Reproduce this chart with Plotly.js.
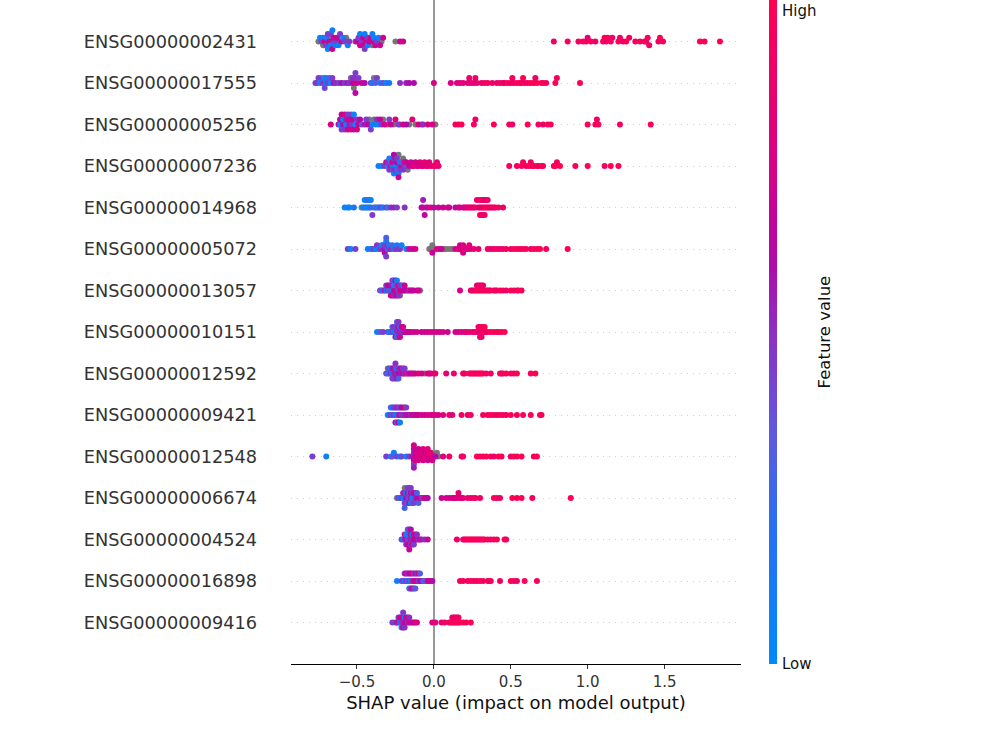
<!DOCTYPE html>
<html><head><meta charset="utf-8">
<script src="https://cdn.plot.ly/plotly-3.0.1.min.js"></script>
<style>html,body{margin:0;padding:0;background:#fff}#chart{width:1000px;height:750px}</style>
</head><body><div id="chart"></div>
<script>
// Feature names, top to bottom as displayed
const featureNames = ["ENSG00000002431","ENSG00000017555","ENSG00000005256","ENSG00000007236","ENSG00000014968","ENSG00000005072","ENSG00000013057","ENSG00000010151","ENSG00000012592","ENSG00000009421","ENSG00000012548","ENSG00000006674","ENSG00000004524","ENSG00000016898","ENSG00000009416"];
const xTickVals = [-0.5, 0, 0.5, 1, 1.5];
const xTickText = ["\u22120.5", "0.0", "0.5", "1.0", "1.5"];

// SHAP values and normalised feature values (0 = low, 1 = high); null = missing (grey)
const shap_002431 = [-0.75,-0.74,-0.73,-0.72,-0.72,-0.71,-0.70,-0.70,-0.69,-0.69,-0.68,-0.68,-0.67,-0.67,-0.66,-0.66,-0.65,-0.65,-0.64,-0.63,-0.63,-0.62,-0.61,-0.60,-0.59,-0.58,-0.57,-0.56,-0.55,-0.51,-0.50,-0.49,-0.48,-0.48,-0.47,-0.46,-0.46,-0.45,-0.45,-0.44,-0.43,-0.43,-0.42,-0.41,-0.40,-0.40,-0.39,-0.39,-0.38,-0.37,-0.36,-0.35,-0.34,-0.33,-0.25,-0.22,-0.20,
  0.78,0.87,0.94,0.97,0.99,1.00,1.02,1.05,1.10,1.11,1.12,1.13,1.15,1.16,1.20,1.21,1.23,1.25,1.27,1.31,1.34,1.37,1.38,1.39,1.40,1.46,1.47,1.49,1.73,1.76,1.86];
const feat_002431 = [null,0.08,0.45,0.08,null,0.7,0.08,0.45,0.45,0.08,0.7,null,0.08,0.45,0.7,0.08,0.45,0.7,0.08,0.45,0.7,0.08,0.45,0.7,0.08,0.45,null,0.08,0.45,0.45,0.7,0.45,0.7,0.08,0.45,0.7,0.7,0.08,0.45,0.7,0.45,0.08,0.7,0.7,null,0.08,0.7,0.08,0.7,0.45,0.08,0.7,null,0.7,null,0.7,0.7,
  0.9,0.95,0.9,1,0.95,0.85,0.95,0.9,1,0.95,0.9,1,0.95,0.9,1,0.95,0.9,1,0.95,0.9,1,0.95,0.9,1,0.95,0.9,1,0.95,1,0.95,1];

const shap_017555 = [-0.77,-0.76,-0.75,-0.74,-0.73,-0.72,-0.71,-0.71,-0.70,-0.70,-0.69,-0.68,-0.67,-0.66,-0.65,-0.64,-0.62,-0.60,-0.58,-0.56,-0.55,-0.54,-0.53,-0.53,-0.52,-0.52,-0.52,-0.51,-0.51,-0.50,-0.49,-0.47,-0.45,-0.41,-0.40,-0.39,-0.38,-0.37,-0.35,-0.33,-0.31,-0.29,-0.22,-0.18,-0.16,-0.13,0.00,
  0.11,0.15,0.17,0.19,0.22,0.23,0.24,0.26,0.27,0.28,0.31,0.33,0.35,0.38,0.41,0.43,0.45,0.46,0.48,0.50,0.51,0.52,0.54,0.56,0.57,0.58,0.59,0.61,0.63,0.65,0.66,0.67,0.70,0.71,0.73,0.79,0.80,0.95];
const feat_017555 = [0.45,null,0.45,0.08,null,0.5,0.08,0.4,0.08,null,0.45,0.3,0.08,0.45,0.6,0.5,0.45,0.6,0.45,0.7,0.45,null,0.6,0.45,0.7,0.5,null,0.45,0.65,0.7,0.45,0.7,0.6,0.45,0.08,null,0.35,0.45,0.08,0.4,0.08,0.15,0.5,0.55,0.6,0.6,0.75,
  0.75,0.8,0.75,0.85,0.8,0.9,0.8,0.85,0.9,0.85,0.9,0.85,0.95,0.9,0.85,0.95,0.9,0.85,1,0.9,0.95,0.9,1,0.95,0.9,1,0.95,0.9,1,0.95,0.9,1,0.95,1,0.95,1,0.95,1];

const shap_005256 = [-0.67,-0.62,-0.61,-0.61,-0.60,-0.60,-0.59,-0.59,-0.58,-0.58,-0.57,-0.57,-0.56,-0.56,-0.55,-0.55,-0.54,-0.54,-0.53,-0.53,-0.52,-0.52,-0.51,-0.50,-0.50,-0.49,-0.48,-0.47,-0.45,-0.44,-0.43,-0.42,-0.41,-0.40,-0.39,-0.38,-0.37,-0.36,-0.35,-0.34,-0.33,-0.32,-0.30,-0.29,-0.28,-0.26,-0.25,-0.23,-0.22,-0.20,-0.18,-0.16,-0.14,-0.12,-0.10,-0.08,-0.07,-0.04,-0.01,0.01,
  0.14,0.16,0.18,0.26,0.27,0.39,0.49,0.51,0.61,0.68,0.71,0.74,0.76,1.00,1.05,1.06,1.07,1.21,1.41];
const feat_005256 = [0.75,0.6,0.08,0.7,0.45,0.7,0.6,0.08,0.45,0.75,0.1,0.55,0.7,0.45,0.55,0.75,0.75,0.45,0.45,0.65,0.65,0.08,0.08,0.5,0.75,0.7,0.6,0.4,0.55,0.45,0.65,null,0.45,0.08,null,0.08,0.5,0.08,0.7,0.45,null,0.75,null,0.45,0.7,null,0.8,0.45,null,0.75,0.6,null,0.8,null,0.75,null,0.5,0.8,0.75,null,
  0.95,0.9,1,0.95,0.9,1,0.95,0.9,1,0.95,0.9,1,0.95,1,0.95,0.9,1,0.95,1];

const shap_007236 = [-0.36,-0.34,-0.32,-0.31,-0.30,-0.30,-0.29,-0.29,-0.28,-0.28,-0.27,-0.27,-0.27,-0.26,-0.26,-0.26,-0.25,-0.25,-0.25,-0.25,-0.24,-0.24,-0.24,-0.24,-0.23,-0.23,-0.23,-0.22,-0.22,-0.22,-0.21,-0.21,-0.20,-0.20,-0.19,-0.19,-0.18,-0.18,-0.17,-0.16,-0.15,-0.14,-0.13,-0.12,-0.11,-0.10,-0.09,-0.08,-0.07,-0.06,-0.05,-0.04,-0.03,-0.02,0.00,0.01,0.02,0.03,
  0.49,0.54,0.57,0.58,0.60,0.62,0.63,0.64,0.65,0.67,0.68,0.70,0.71,0.78,0.79,0.80,0.82,0.92,1.00,1.11,1.15,1.20];
const feat_007236 = [0.08,0.08,0.45,0.65,0.08,0.5,0.45,0.08,0.7,0.3,0.08,0.7,0.45,0.4,0.08,0.6,0.08,null,0.55,0.7,0.08,0.6,0.35,0.45,0.08,null,0.7,0.5,0.08,0.45,0.7,0.3,0.45,null,0.5,0.75,0.4,0.7,null,0.65,0.7,0.75,0.8,0.7,0.8,0.75,0.8,0.75,0.8,0.85,0.8,0.85,0.8,0.85,0.85,0.9,0.85,0.9,
  0.95,0.9,1,0.95,0.9,1,0.95,0.9,1,0.95,0.9,1,0.95,0.9,1,0.95,1,0.95,1,0.95,1,1];

const shap_014968 = [-0.58,-0.56,-0.55,-0.52,-0.47,-0.46,-0.45,-0.45,-0.44,-0.44,-0.43,-0.43,-0.42,-0.42,-0.41,-0.41,-0.40,-0.39,-0.38,-0.37,-0.36,-0.35,-0.34,-0.33,-0.31,-0.30,-0.28,-0.26,-0.24,-0.19,
  -0.08,-0.07,-0.07,-0.06,-0.05,-0.04,-0.02,0.00,0.03,0.06,0.09,0.10,
  0.14,0.16,0.17,0.19,0.20,0.21,0.22,0.23,0.24,0.25,0.26,0.27,0.28,0.29,0.30,0.30,0.30,0.31,0.31,0.31,0.32,0.32,0.32,0.33,0.33,0.33,0.34,0.34,0.35,0.35,0.36,0.37,0.38,0.39,0.40,0.42,0.45];
const feat_014968 = [0.08,0.08,0.08,0.15,null,0.08,null,0.08,0.08,null,0.08,0.3,null,0.08,0.2,0.08,0.45,null,0.08,0.35,0.08,0.4,0.45,0.08,0.45,0.08,0.5,0.55,0.45,0.5,
  0.6,0.7,0.55,0.65,0.55,0.7,0.75,0.65,0.7,0.7,0.75,0.7,
  0.65,0.7,0.75,0.7,0.8,0.75,0.85,0.8,0.9,0.85,0.8,0.9,0.85,0.95,0.8,0.9,1,0.85,0.95,0.9,0.85,1,0.9,0.95,0.8,0.9,1,0.85,0.95,0.9,0.95,0.9,0.85,0.95,0.9,0.95,0.9];

const shap_005072 = [-0.56,-0.54,-0.51,-0.43,-0.41,-0.40,-0.39,-0.38,-0.37,-0.36,-0.35,-0.34,-0.33,-0.33,-0.32,-0.32,-0.32,-0.31,-0.31,-0.31,-0.30,-0.30,-0.29,-0.29,-0.28,-0.27,-0.26,-0.25,-0.24,-0.23,-0.22,-0.21,-0.18,-0.16,-0.14,-0.12,
  -0.03,-0.02,-0.01,-0.01,0.00,0.02,0.04,0.05,0.07,0.08,0.10,0.12,0.14,
  0.16,0.17,0.17,0.18,0.19,0.19,0.20,0.21,0.22,0.23,0.24,0.26,0.29,0.35,0.37,0.39,0.41,0.43,0.45,0.47,0.50,0.52,0.54,0.56,0.58,0.60,0.63,0.65,0.67,0.69,0.73,0.87];
const feat_005072 = [0.45,0.08,0.45,0.08,0.08,0.3,0.45,0.08,0.5,0.08,0.45,0.08,0.5,0.08,0.55,0.45,0.6,0.08,0.45,0.3,0.08,0.5,0.45,0.08,0.5,0.3,0.08,0.45,0.08,0.5,0.45,0.08,0.08,0.7,0.7,0.75,
  null,null,null,0.7,null,0.75,0.7,0.7,null,null,null,null,0.75,
  0.8,0.75,0.7,null,0.8,0.75,0.85,0.8,0.75,0.85,0.8,0.85,0.85,0.9,0.85,0.9,0.95,0.85,0.9,0.95,0.9,1,0.95,0.9,1,0.95,0.9,1,0.95,1,0.95,1];

const shap_013057 = [-0.35,-0.34,-0.33,-0.32,-0.31,-0.31,-0.30,-0.30,-0.29,-0.29,-0.28,-0.28,-0.28,-0.27,-0.27,-0.27,-0.27,-0.26,-0.26,-0.26,-0.26,-0.25,-0.25,-0.25,-0.25,-0.24,-0.24,-0.24,-0.24,-0.23,-0.23,-0.23,-0.22,-0.22,-0.22,-0.21,-0.21,-0.20,-0.20,-0.19,-0.19,-0.18,-0.17,-0.16,-0.15,-0.14,-0.13,-0.11,-0.10,-0.09,
  0.17,0.24,0.25,0.26,0.27,0.28,0.28,0.29,0.29,0.30,0.30,0.31,0.31,0.32,0.32,0.33,0.34,0.35,0.36,0.37,0.39,0.40,0.41,0.43,0.45,0.47,0.50,0.52,0.54,0.55,0.57];
const feat_013057 = [0.45,0.3,0.08,0.7,0.08,0.45,0.5,0.75,0.08,0.6,0.45,null,0.7,0.08,0.55,0.75,0.45,0.7,0.08,0.5,0.3,0.75,0.08,0.55,0.65,null,0.45,0.7,0.08,0.4,0.7,0.5,0.8,0.45,null,0.7,0.5,0.75,0.08,0.6,0.7,null,0.7,0.5,0.75,0.65,0.7,0.65,0.7,null,
  0.75,0.9,0.85,0.95,0.85,1,0.9,0.95,0.85,1,0.9,0.95,0.85,1,0.9,0.95,0.9,1,0.95,0.9,1,0.95,0.9,1,0.95,0.9,1,0.95,0.9,1,0.95];

const shap_010151 = [-0.37,-0.35,-0.33,-0.30,-0.29,-0.28,-0.27,-0.27,-0.26,-0.26,-0.25,-0.25,-0.25,-0.24,-0.24,-0.24,-0.24,-0.23,-0.23,-0.23,-0.23,-0.22,-0.22,-0.22,-0.21,-0.21,-0.20,-0.20,-0.19,-0.18,-0.17,-0.16,-0.15,-0.13,-0.11,
  -0.08,-0.06,-0.04,-0.02,0.00,0.02,0.04,0.06,0.09,
  0.14,0.16,0.18,0.20,0.21,0.23,0.25,0.26,0.27,0.28,0.29,0.29,0.30,0.30,0.30,0.31,0.31,0.31,0.32,0.32,0.33,0.33,0.34,0.35,0.37,0.39,0.41,0.42,0.44,0.46];
const feat_010151 = [0.08,0.35,0.45,0.45,0.08,0.08,0.45,0.3,0.08,0.5,0.08,0.45,0.6,0.5,0.45,0.08,0.3,null,0.6,0.45,0.5,0.55,0.08,0.7,0.5,0.7,0.5,0.75,0.6,0.75,0.6,0.7,0.7,0.7,0.75,
  0.7,0.7,0.7,0.75,0.7,0.75,0.7,0.75,0.7,
  0.75,0.7,0.8,0.75,0.85,0.8,0.9,0.85,0.8,0.95,0.85,0.9,0.8,0.95,0.9,0.85,1,0.9,0.95,0.85,0.9,1,0.95,0.9,1,0.95,0.9,1,0.95,1];

const shap_012592 = [-0.31,-0.30,-0.30,-0.29,-0.29,-0.28,-0.28,-0.27,-0.27,-0.27,-0.26,-0.26,-0.26,-0.25,-0.25,-0.25,-0.25,-0.24,-0.24,-0.24,-0.23,-0.23,-0.23,-0.22,-0.22,-0.21,-0.21,-0.20,-0.20,-0.19,-0.19,-0.18,-0.17,-0.16,-0.15,-0.14,-0.13,-0.12,-0.10,-0.08,-0.06,-0.04,-0.03,-0.02,0.00,0.01,
  0.08,0.13,0.19,0.20,0.23,0.24,0.25,0.26,0.27,0.28,0.29,0.30,0.31,0.32,0.34,0.37,0.43,0.44,0.45,0.47,0.50,0.52,0.54,0.63,0.66];
const feat_012592 = [0.45,0.08,null,0.3,0.45,0.5,0.08,0.1,0.55,0.45,0.45,0.7,null,0.7,0.45,null,0.5,0.5,0.08,0.6,0.6,0.45,0.3,null,0.55,0.55,0.7,0.7,0.45,0.5,0.45,0.75,0.45,0.8,0.6,0.75,null,0.7,0.8,0.75,null,0.8,0.75,0.8,0.85,0.85,
  0.85,0.9,0.95,0.9,1,0.95,0.9,1,0.95,0.9,1,0.95,0.9,1,0.95,0.9,1,0.95,0.9,1,0.95,0.9,1,0.95,1];

const shap_009421 = [-0.30,-0.29,-0.28,-0.28,-0.27,-0.27,-0.26,-0.26,-0.25,-0.25,-0.25,-0.24,-0.24,-0.24,-0.23,-0.23,-0.23,-0.22,-0.22,-0.22,-0.21,-0.21,-0.20,-0.20,-0.19,-0.19,-0.18,-0.18,-0.17,-0.16,-0.15,-0.14,-0.13,-0.12,-0.11,-0.10,-0.08,-0.06,-0.04,-0.02,
  -0.01,0.01,0.03,0.06,0.10,0.12,0.18,0.22,0.24,0.32,0.35,0.37,0.39,0.41,0.43,0.45,0.47,0.50,0.54,0.58,0.63,0.69,0.70];
const feat_009421 = [0.08,0.08,0.45,0.3,0.35,0.08,0.5,0.45,0.08,0.45,0.6,null,0.55,0.3,0.5,0.45,0.7,0.6,0.45,0.08,0.45,0.6,0.5,null,null,0.7,0.7,0.45,0.55,0.65,0.5,0.7,null,0.75,0.6,0.7,0.75,0.7,0.8,0.75,
  0.75,0.8,0.75,0.8,0.85,0.8,0.9,0.85,0.9,0.95,0.9,1,0.95,0.9,1,0.95,0.9,1,0.95,1,0.95,1,0.95];

const shap_012548 = [-0.79,-0.70,-0.31,-0.28,-0.27,-0.26,-0.24,-0.22,-0.21,-0.18,-0.16,-0.14,-0.13,-0.13,-0.13,-0.13,-0.13,-0.13,-0.12,-0.12,-0.12,-0.11,-0.11,-0.10,-0.10,-0.09,-0.09,-0.08,-0.08,-0.07,-0.07,-0.06,-0.06,-0.05,-0.05,-0.04,-0.04,-0.03,-0.03,-0.02,-0.02,-0.01,0.00,0.01,0.02,0.03,0.06,
  0.10,0.18,0.19,0.28,0.30,0.32,0.34,0.37,0.39,0.42,0.44,0.50,0.52,0.54,0.57,0.65,0.67];
const feat_012548 = [0.45,0.08,0.45,0.08,0.35,0.08,0.45,0.08,0.4,0.08,0.45,0.55,0.5,0.6,0.7,0.45,0.75,0.55,0.75,0.6,0.8,0.7,0.8,0.75,0.7,0.8,0.75,0.7,0.85,0.75,0.8,0.85,0.7,0.8,0.75,0.7,0.85,0.8,0.75,0.8,0.85,0.75,0.8,0.6,null,null,0.8,
  0.9,0.95,0.9,1,0.95,0.9,1,0.95,0.9,1,0.95,0.9,1,0.95,1,0.95,1];

const shap_006674 = [-0.24,-0.23,-0.22,-0.21,-0.20,-0.20,-0.19,-0.19,-0.19,-0.18,-0.18,-0.18,-0.17,-0.17,-0.17,-0.17,-0.16,-0.16,-0.16,-0.16,-0.15,-0.15,-0.15,-0.15,-0.14,-0.14,-0.14,-0.13,-0.13,-0.13,-0.12,-0.12,-0.11,-0.11,-0.10,-0.09,-0.08,-0.07,-0.06,-0.05,-0.04,
  0.05,0.08,0.10,0.12,0.13,0.14,0.15,0.16,0.17,0.18,0.19,0.22,0.24,0.26,0.27,0.30,0.39,0.41,0.43,0.51,0.54,0.57,0.64,0.89];
const feat_006674 = [null,0.45,0.08,0.5,0.08,0.55,0.45,null,0.3,0.6,0.08,0.45,0.5,0.7,0.3,0.45,0.4,0.08,0.6,0.45,0.55,0.65,0.08,0.45,0.08,0.5,0.3,null,0.7,0.45,0.45,0.6,0.6,0.3,0.3,0.7,0.5,0.45,0.75,0.7,0.6,
  0.7,0.75,0.7,0.8,0.75,0.7,0.8,0.85,0.75,0.8,0.85,0.9,0.85,0.9,0.95,0.9,1,0.95,0.9,1,0.95,1,0.95,1];

const shap_004524 = [-0.21,-0.20,-0.19,-0.19,-0.18,-0.18,-0.18,-0.17,-0.17,-0.17,-0.17,-0.16,-0.16,-0.16,-0.16,-0.16,-0.15,-0.15,-0.15,-0.15,-0.14,-0.14,-0.14,-0.13,-0.13,-0.13,-0.12,-0.12,-0.11,-0.11,-0.10,-0.09,-0.08,-0.06,-0.04,
  0.15,0.19,0.20,0.21,0.22,0.23,0.24,0.25,0.26,0.27,0.28,0.29,0.30,0.31,0.32,0.33,0.35,0.37,0.39,0.41,0.46,0.47];
const feat_004524 = [0.45,0.08,0.5,0.7,0.6,0.08,0.45,0.4,0.08,0.7,0.3,0.45,0.3,null,0.45,0.7,0.55,0.7,0.45,0.6,0.5,0.08,0.7,0.65,0.75,0.45,0.6,0.7,0.7,0.5,0.5,0.75,0.55,0.5,0.7,
  0.9,0.95,0.85,0.9,1,0.95,1,0.95,0.9,1,0.95,0.9,1,0.95,0.9,1,0.95,0.9,1,0.95,1,0.95];

const shap_016898 = [-0.24,-0.21,-0.20,-0.19,-0.19,-0.18,-0.18,-0.17,-0.17,-0.16,-0.16,-0.16,-0.15,-0.15,-0.15,-0.14,-0.14,-0.14,-0.13,-0.13,-0.13,-0.12,-0.12,-0.12,-0.11,-0.11,-0.10,-0.10,-0.09,-0.09,-0.08,-0.07,-0.06,-0.05,-0.04,-0.03,-0.02,-0.01,
  0.17,0.19,0.22,0.24,0.26,0.28,0.30,0.32,0.35,0.36,0.37,0.43,0.50,0.52,0.54,0.59,0.67];
const feat_016898 = [0.08,0.45,null,0.08,0.5,0.5,0.7,0.08,0.45,0.45,0.6,0.08,0.08,0.7,0.5,0.5,0.75,0.7,0.75,0.4,0.45,0.6,0.7,0.35,0.7,0.45,0.45,0.75,0.6,0.3,0.6,0.3,null,0.35,0.75,0.7,null,0.6,
  0.9,0.95,0.9,1,0.95,0.9,1,0.95,0.9,1,0.95,0.9,1,0.95,0.9,1,0.95];

const shap_009416 = [-0.27,-0.25,-0.24,-0.23,-0.23,-0.22,-0.22,-0.21,-0.21,-0.21,-0.20,-0.20,-0.20,-0.20,-0.19,-0.19,-0.19,-0.18,-0.18,-0.17,-0.17,-0.16,-0.16,-0.15,-0.14,-0.13,-0.12,-0.11,-0.01,0.01,
  0.05,0.07,0.10,0.11,0.12,0.12,0.13,0.13,0.14,0.14,0.15,0.15,0.16,0.16,0.17,0.19,0.21,0.24];
const feat_009416 = [0.45,null,0.55,0.7,0.45,0.08,0.7,0.45,0.75,0.08,0.5,null,0.7,0.45,0.7,0.08,0.5,0.6,0.75,0.45,0.7,0.75,0.5,null,0.65,0.7,0.75,0.75,0.75,0.8,
  0.85,0.9,0.95,0.9,1,0.85,0.95,0.9,1,0.85,0.95,0.9,1,0.95,0.9,1,0.95,1];

// rows listed top to bottom, matching featureNames
const rowShap = [shap_002431, shap_017555, shap_005256, shap_007236, shap_014968, shap_005072, shap_013057, shap_010151, shap_012592, shap_009421, shap_012548, shap_006674, shap_004524, shap_016898, shap_009416];
const rowFeat = [feat_002431, feat_017555, feat_005256, feat_007236, feat_014968, feat_005072, feat_013057, feat_010151, feat_012592, feat_009421, feat_012548, feat_006674, feat_004524, feat_016898, feat_009416];

// shap-style beeswarm vertical offsets (layout only)
function beeswarm(xs, rowHeight) {
  const N = xs.length, nbins = 100;
  const mn = Math.min(...xs), mx = Math.max(...xs);
  const quant = xs.map(v => Math.round(nbins * (v - mn) / (mx - mn + 1e-8)));
  const inds = xs.map((_, i) => i).sort((a, b) => (quant[a] - quant[b]) || (a - b));
  let layer = 0, last = -1;
  const ys = new Array(N).fill(0);
  for (const i of inds) {
    if (quant[i] !== last) layer = 0;
    ys[i] = Math.ceil(layer / 2) * ((layer % 2) * 2 - 1);
    layer++; last = quant[i];
  }
  const m = Math.max(...ys.map(v => v + 1));
  return ys.map(v => v * 0.9 * (rowHeight / m));
}

const nRows = featureNames.length;
const gx = [], gy = [], cx = [], cy = [], cc = [];
rowShap.forEach((xs, k) => {
  const pos = nRows - 1 - k;
  const off = beeswarm(xs, 0.4);
  const fv = rowFeat[k];
  if (fv.length !== xs.length) console.warn('length mismatch', featureNames[k], xs.length, fv.length);
  xs.forEach((v, i) => {
    const f = fv[i];
    if (f === null || f === undefined) { gx.push(v); gy.push(pos + off[i]); }
    else { cx.push(v); cy.push(pos + off[i]); cc.push(f); }
  });
});

const colorscale = [[0,'rgb(0,138,251)'],[0.2,'rgb(38,112,244)'],[0.35,'rgb(95,88,222)'],[0.5,'rgb(140,48,195)'],[0.6,'rgb(175,10,172)'],[0.75,'rgb(215,0,135)'],[1,'rgb(255,0,82)']];

const traces = [
  {type:'scatter', mode:'markers', x:gx, y:gy, hoverinfo:'skip',
   marker:{size:6, color:'#777777', line:{width:0}}},
  {type:'scatter', mode:'markers', x:cx, y:cy, hoverinfo:'skip',
   marker:{size:6, color:cc, colorscale:colorscale, cmin:0, cmax:1, line:{width:0},
     showscale:true,
     colorbar:{thickness:8, thicknessmode:'pixels', len:1, lenmode:'fraction',
       xref:'container', x:0.769, xanchor:'left', yref:'paper', y:0.5, yanchor:'middle',
       xpad:0, ypad:0, outlinewidth:0, showticklabels:false, ticks:''}}}
];

const ML = 291, MR = 258.5, MT = 0, MB = 86;
const plotW = 1000 - ML - MR;
const px2paper = p => (p - ML) / plotW;

const layout = {
  width:1000, height:750,
  margin:{l:ML, r:MR, t:MT, b:MB, pad:0},
  paper_bgcolor:'#ffffff', plot_bgcolor:'#ffffff',
  showlegend:false,
  font:{family:'DejaVu Sans, sans-serif', color:'#333333'},
  xaxis:{range:[-0.929, 1.997], tickvals:xTickVals, ticktext:xTickText,
    showgrid:false, zeroline:true, zerolinecolor:'#999999', zerolinewidth:1.8,
    showline:true, linecolor:'#000000', linewidth:1,
    ticks:'outside', ticklen:4, tickcolor:'#333333', tickwidth:1,
    tickfont:{size:15, color:'#333333'},
    title:{text:'SHAP value (impact on model output)', font:{size:18, color:'#111111'}, standoff:6},
    fixedrange:true},
  yaxis:{range:[-1, nRows], tickvals:featureNames.map((_, k) => nRows - 1 - k), ticktext:featureNames,
    showgrid:true, gridcolor:'#d0d0d0', gridwidth:1, griddash:'1px,5px',
    zeroline:false, showline:false, ticks:'', ticklabelstandoff:33,
    tickfont:{size:17.7, color:'#333333'}, fixedrange:true},
  annotations:[
    {xref:'paper', yref:'paper', x:px2paper(781), y:1, xanchor:'left', yanchor:'top', text:'High', showarrow:false, font:{size:15, color:'#111111'}},
    {xref:'paper', yref:'paper', x:px2paper(781), y:0, xanchor:'left', yanchor:'middle', text:'Low', showarrow:false, font:{size:15, color:'#111111'}},
    {xref:'paper', yref:'paper', x:px2paper(825), y:0.5, xanchor:'center', yanchor:'middle', text:'Feature value', textangle:-90, showarrow:false, font:{size:16.5, color:'#111111'}}
  ]
};

Plotly.newPlot('chart', traces, layout, {displayModeBar:false, staticPlot:true});
</script>
</body></html>
